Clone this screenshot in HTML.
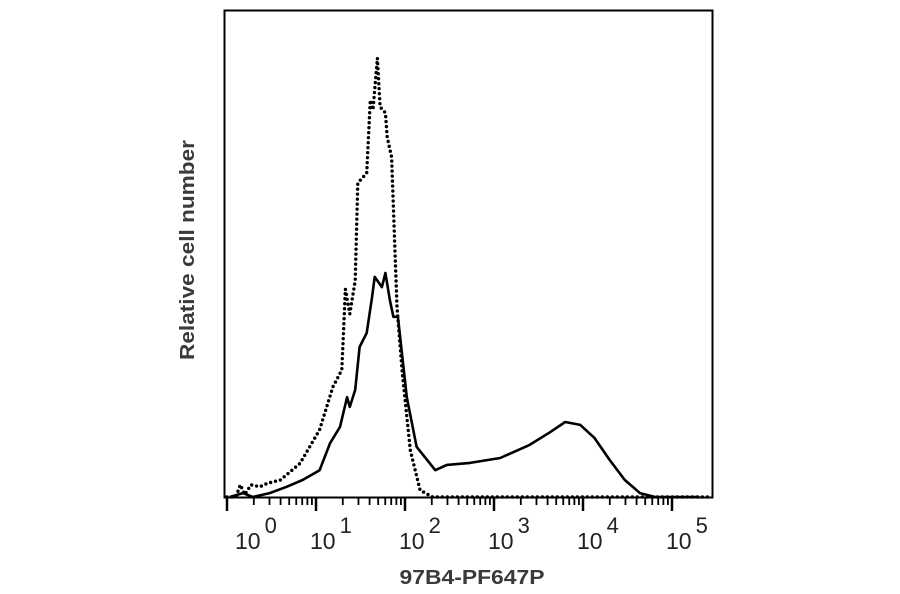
<!DOCTYPE html>
<html><head><meta charset="utf-8"><style>
body{margin:0;background:#fff;}
svg{display:block;font-family:"Liberation Sans",sans-serif;}
</style></head><body>
<svg width="900" height="594" viewBox="0 0 900 594">
<rect x="224.5" y="10.5" width="488" height="487" fill="none" stroke="#000" stroke-width="2"/>
<g id="ticks"></g>
<g id="labels"></g>
<path id="dotted" fill="none" stroke="#000" stroke-width="3.4" stroke-linecap="round" stroke-dasharray="0,5"/>
<path id="solid" fill="none" stroke="#000" stroke-width="2.6" stroke-linejoin="round"/>
<text x="194" y="250" transform="rotate(-90 194 250)" text-anchor="middle" font-size="20" font-weight="bold" fill="#3a3a3a" textLength="220" lengthAdjust="spacingAndGlyphs">Relative cell number</text>
<text x="472" y="584" text-anchor="middle" font-size="20" font-weight="bold" fill="#3a3a3a" textLength="145" lengthAdjust="spacingAndGlyphs">97B4-PF647P</text>
</svg>
<script>
const dottedX=[0,0.1,0.15,0.2,0.27,0.37,0.45,0.6,0.82,1.04,1.19,1.29,1.33,1.38,1.44,1.47,1.57,1.61,1.64,1.69,1.72,1.78,1.8,1.85,1.91,1.97,2.06,2.17,2.31,5.4];
const dottedY=[0,0,2.5,0.5,2.5,2.1,2.8,3.5,6.9,13.8,22.6,26.1,42.7,37.6,44.4,64.5,66.5,81.5,79.5,90.1,80.1,78.9,73.9,69.8,39,25.5,9.6,1.4,0,0];
const solidX=[0.03,0.18,0.29,0.48,0.67,0.85,1.04,1.16,1.27,1.35,1.38,1.44,1.49,1.57,1.63,1.66,1.74,1.78,1.83,1.87,1.92,2.02,2.13,2.34,2.47,2.73,3.07,3.4,3.63,3.8,3.97,4.13,4.3,4.47,4.64,4.81,5.31];
const solidY=[0,0.8,0,0.8,2.1,3.5,5.5,11.1,14.4,20.5,18.5,22,30.8,33.7,41.1,45.2,43.1,46,40.4,37,37,20.5,10.3,5.5,6.6,7,8,10.7,13.3,15.4,14.8,12.1,7.6,3.5,0.8,0,0];
const decades=[0,1,2,3,4,5];
const tickLabels=["10","10","10","10","10","10"];
const tickExps=["0","1","2","3","4","5"];
const X0=227,DX=89,Y0=497,SY=4.87;
const sx=d=>X0+d*DX, sy=v=>Y0-v*SY;
const ns="http://www.w3.org/2000/svg";
function path(xs,ys){return xs.map((x,i)=>(i?'L':'M')+sx(x).toFixed(1)+','+sy(ys[i]).toFixed(1)).join('');}
document.getElementById('dotted').setAttribute('d',path(dottedX,dottedY));
document.getElementById('solid').setAttribute('d',path(solidX,solidY));
const tg=document.getElementById('ticks'),lg=document.getElementById('labels');
decades.forEach((d,i)=>{
  const l=document.createElementNS(ns,'line');
  
  
  l.setAttribute('x1',sx(d));l.setAttribute('x2',sx(d));l.setAttribute('y1',497);l.setAttribute('y2',511);
  l.setAttribute('stroke','#000');l.setAttribute('stroke-width','2.5');tg.appendChild(l);
  if(d<5)for(let m=2;m<10;m++){
    const x=sx(d+Math.log10(m));
    if(x>712)break;
    const t=document.createElementNS(ns,'line');
    
    
    t.setAttribute('x1',x);t.setAttribute('x2',x);t.setAttribute('y1',497);t.setAttribute('y2',505);
    t.setAttribute('stroke','#000');t.setAttribute('stroke-width','1.8');tg.appendChild(t);
  }
  const tx=document.createElementNS(ns,'text');
  
  
  tx.setAttribute('x',(i==0?235:sx(d)-6));tx.setAttribute('y',549);
  tx.setAttribute('font-size','23');tx.setAttribute('fill','#222');
  tx.textContent=tickLabels[i];
  const ts=document.createElementNS(ns,'tspan');
  ts.setAttribute('dx','4');ts.setAttribute('dy','-16');ts.setAttribute('font-size','22');
  ts.textContent=tickExps[i];tx.appendChild(ts);lg.appendChild(tx);
});
</script>
</body></html>
